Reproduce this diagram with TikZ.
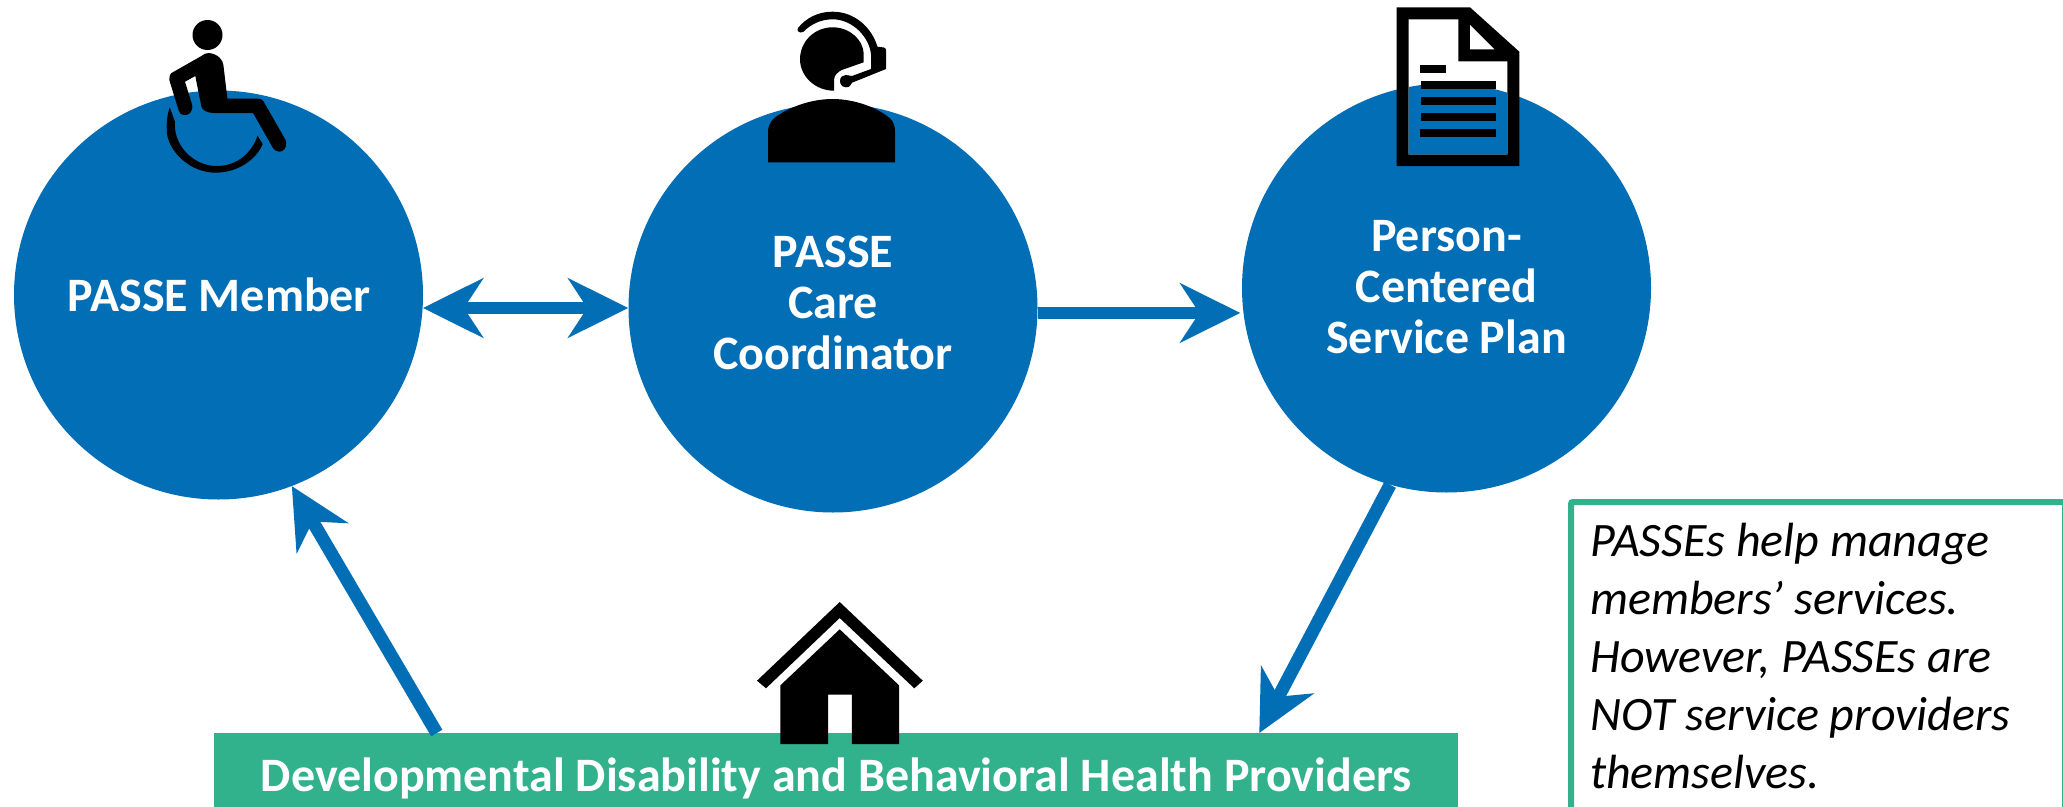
\documentclass[tikz,border=0pt]{standalone}
\usepackage{fontspec}
\setmainfont{Carlito}
\usetikzlibrary{arrows.meta,calc}
\definecolor{pblue}{HTML}{026EB6}
\definecolor{pgreen}{HTML}{32B18D}
\tikzset{
  bubble/.style={circle,fill=pblue,minimum size=409pt,inner sep=0pt},
  bubbletext/.style={text=white,font=\fontsize{48}{51}\selectfont\bfseries,align=center,inner sep=0pt},
  conn/.style={draw=pblue,line width=12pt,-{Stealth[length=60pt,width=59pt,inset=19pt]}},
  slantconn/.style={conn,line width=13pt},
  bothconn/.style={draw=pblue,line width=12pt,{Stealth[length=60pt,width=59pt,inset=19pt]}-{Stealth[length=60pt,width=59pt,inset=19pt]}},
  icon/.style={fill=black}
}
\begin{document}
\begin{tikzpicture}[x=1pt,y=-1pt]
\useasboundingbox (0,0) rectangle (2063,806);
\clip (0,0) rectangle (2063,806);
\fill[white] (0,0) rectangle (2063,806);
\node[bubble] (member) at (218.5,295) {};
\node[bubble] (care) at (833,308) {};
\node[bubble] (plan) at (1446.5,288) {};
\node[fill=pgreen,minimum width=1244pt,minimum height=90pt,inner sep=0pt,anchor=north west,text=white,font=\fontsize{48}{50}\selectfont\bfseries] (bar) at (214,733) {Developmental Disability and Behavioral Health Providers};
\node[draw=pgreen,line width=6pt,rounded corners=2pt,anchor=north west,minimum width=494pt,minimum height=340pt,inner sep=0pt] (notebox) at (1568,499) {};
\node[anchor=north west,inner sep=0pt,align=left,font=\fontsize{48}{58}\selectfont\itshape] (note) at (1590,523) {PASSEs help manage\\members’ services.\\However, PASSEs are\\NOT service providers\\themselves.};
\node[bubbletext] (membertext) at (219.5,295) {PASSE Member};
\node[bubbletext] (caretext) at (833,303) {PASSE\\Care\\Coordinator};
\node[bubbletext] (plantext) at (1446.5,287) {Person-\\Centered\\Service Plan};
% connectors
\draw[bothconn] (member.-3.64 |- care.west) -- (care.west);
\draw[conn,shorten >=3pt] (care.-1.4 |- plan.187) -- (plan.187);
\draw[slantconn] (plan.254.4) -- ($(bar.north west)!0.84!(bar.north east)$);
\draw[slantconn] ($(bar.north west)!0.179!(bar.north east)$) -- (member.-69);
% wheelchair
\fill[icon] (207.5,35) circle (15);
\fill[icon] (209,53) .. controls (218,54) and (223,60) .. (223.4,65) -- (227.4,98.7) -- (257.6,98.7) .. controls (261,98.7) and (263,100) .. (263.7,101.7) -- (285.6,140) .. controls (288,148) and (283,152) .. (279,151.7) .. controls (276,151) and (274,150) .. (273,148) -- (253,113) -- (214,113) .. controls (207,113) and (202,110) .. (201.4,106.7) -- (195.3,76) -- (185,81.7) -- (192.2,105) .. controls (193,112) and (189,115) .. (185,115) .. controls (181,115) and (179,113) .. (178.5,110) -- (169.3,80) .. controls (169,77) and (170,75) .. (171,73.3) -- (201.4,56) .. controls (204,54) and (206,53) .. (209,53) -- cycle;
\fill[icon] (169.8,107.3) .. controls (167,115) and (166,125) .. (167.2,135) .. controls (170,152) and (190,173) .. (216.7,172.7) .. controls (240,172) and (257,158) .. (262.7,144) -- (257.6,135.7) .. controls (252,152) and (238,166) .. (216.7,166) .. controls (193,166) and (173,145) .. (175,121.7) -- cycle;
% headset
\fill[icon] (834,90.7) -- (834,80) .. controls (834,75) and (838,72) .. (841.7,70) -- (863.7,62.3) -- (863.7,53.3) .. controls (863,40) and (850,27.3) .. (832.6,27.3) .. controls (814,27.3) and (800,42) .. (800,59.3) .. controls (800,76) and (815,90.7) .. (834,90.7) -- cycle;
\fill[icon] (798,28) .. controls (806,18) and (818,11.7) .. (832.6,11.7) .. controls (855,11.7) and (872,28) .. (877.4,46.7) -- (884,47.5) .. controls (885.5,48) and (886,49) .. (886,50) -- (886,69) -- (852,82.7) .. controls (850,87) and (847,88) .. (845.8,87.3) .. controls (841,87) and (840,83) .. (840,80.7) .. controls (840,77) and (843,75) .. (845.8,75) -- (852,76) -- (871,69) -- (871,55) .. controls (870,38) and (853,19.3) .. (832.6,19.3) .. controls (820,19.3) and (810,25) .. (803.5,31.7) .. controls (800,34) and (796,31) .. (798,28) -- cycle;
\fill[icon] (832.6,99) .. controls (855,99) and (878,108) .. (890,118.3) .. controls (894,122) and (895,127) .. (895,131.7) -- (895,162.3) -- (768,162.3) -- (768,131.7) .. controls (768,127) and (770,122) .. (774,118.3) .. controls (787,108) and (810,99) .. (832.6,99) -- cycle;
% document
\fill[icon] (1396.7,7.3) -- (1470,7.3) -- (1519.3,51.7) -- (1519.3,166) -- (1396.7,166) -- cycle;
\fill[white] (1408.7,19.3) -- (1458.3,19.3) -- (1458.3,61.3) -- (1507.3,61.3) -- (1507.3,154.3) -- (1408.7,154.3) -- cycle;
\begin{scope}
\clip (1446.5,288) circle (204.5);
\fill[pblue] (1408.7,19.3) -- (1458.3,19.3) -- (1458.3,61.3) -- (1507.3,61.3) -- (1507.3,154.3) -- (1408.7,154.3) -- cycle;
\end{scope}
\fill[white] (1470,25) -- (1470,49.3) -- (1494.3,49.3) -- cycle;
\fill[icon] (1420,65) rectangle (1446,73);
\fill[icon] (1420.7,81) rectangle (1495.7,89);
\fill[icon] (1420.7,97) rectangle (1495.7,105);
\fill[icon] (1420.7,113) rectangle (1495.7,121);
\fill[icon] (1420,129) rectangle (1496,137);
% house
\fill[icon] (839.7,602) -- (922.8,680.7) -- (914.3,688.3) -- (839.7,618) -- (766,688.3) -- (757,680.7) -- cycle;
\fill[icon] (839.7,629.3) -- (899,685.3) -- (899,744) -- (851.8,744) -- (851.8,694.7) -- (828,694.7) -- (828,744) -- (780.4,744) -- (780.4,685.3) -- cycle;
\end{tikzpicture}
\end{document}
